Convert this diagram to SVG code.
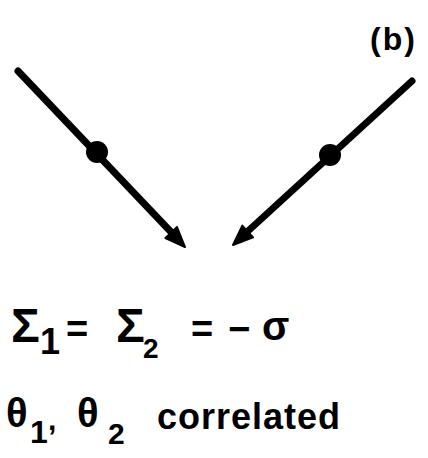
<svg xmlns="http://www.w3.org/2000/svg" width="428" height="458" viewBox="0 0 428 458">
<style>
.ln{stroke:#000;stroke-width:7;stroke-linecap:round;fill:none}
.ah{fill:#000;stroke:#000;stroke-width:2;stroke-linejoin:round}
.t{font-family:"Liberation Sans",Arial,sans-serif;font-weight:bold;fill:#000}
</style>
<rect width="428" height="458" fill="#fff"/>
<g id="connectors">
<line class="ln" x1="18" y1="71" x2="172" y2="233"/>
<path class="ah" d="M185,247 L165.4,238 Q171,233 177,227 Z"/>
<line class="ln" x1="412" y1="81" x2="247" y2="232"/>
<path class="ah" d="M233,245 L242.3,225.6 Q248,232 253.1,237.4 Z"/>
</g>
<g id="dot1"><circle cx="97" cy="152" r="11"/></g>
<g id="dot2"><circle cx="330" cy="155" r="11"/></g>
<g id="label-b"><text class="t" x="370" y="50" font-size="32" letter-spacing="2">(b)</text></g>
<g id="eq1">
<text class="t" x="11" y="342" font-size="48">Σ</text>
<text class="t" x="40" y="354" font-size="36">1</text>
<text class="t" x="66" y="342" font-size="38">=</text>
<text class="t" x="116" y="342" font-size="48">Σ</text>
<text class="t" x="143" y="358" font-size="28">2</text>
<text class="t" x="191" y="342" font-size="38">=</text>
<text class="t" x="228" y="342" font-size="38">−</text>
<text class="t" x="262" y="340" font-size="40">σ</text>
</g>
<g id="eq2">
<text class="t" x="6" y="427" font-size="40">θ</text>
<text class="t" x="30" y="443" font-size="32">1</text>
<text class="t" x="48" y="430" font-size="30">,</text>
<text class="t" x="77" y="427" font-size="40">θ</text>
<text class="t" x="108" y="444" font-size="30">2</text>
<text class="t" x="157" y="429" font-size="36" letter-spacing="1">correlated</text>
</g>
</svg>
